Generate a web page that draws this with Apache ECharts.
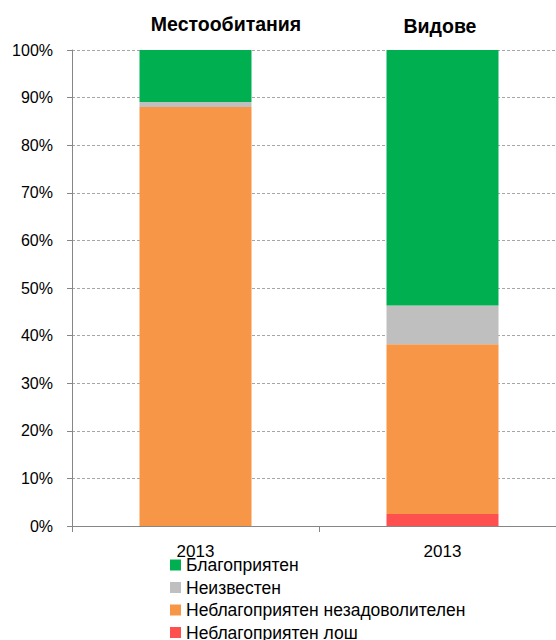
<!DOCTYPE html>
<html>
<head>
<meta charset="utf-8">
<script src="https://cdn.jsdelivr.net/npm/echarts@6/dist/echarts.min.js"></script>
<style>
html,body{margin:0;padding:0;background:#fff;}
#chart{width:556px;height:640px;}
</style>
</head>
<body>
<div id="chart"></div>
<script>
const categories = ['2013', '2013'];
const panelTitles = ['Местообитания', 'Видове'];
const seriesNames = ['Благоприятен', 'Неизвестен', 'Неблагоприятен незадоволителен', 'Неблагоприятен лош'];
const favourable = [10.9, 53.7];
const unknown = [1.1, 8.1];
const unfavInadequate = [88.0, 35.7];
const unfavBad = [0, 2.5];
const yTicks = [0, 10, 20, 30, 40, 50, 60, 70, 80, 90, 100];
const colors = ['#00B050', '#BFBFBF', '#F79646', '#FF5050'];

const FONT = 'Liberation Sans';
const chart = echarts.init(document.getElementById('chart'), null, {renderer: 'svg'});

function bar(name, data, color) {
  return {
    name: name, type: 'bar', stack: 'total', data: data, barWidth: 112,
    itemStyle: {color: color}
  };
}

chart.setOption({
  animation: false,
  textStyle: {fontFamily: FONT},
  graphic: [
    {type: 'text', style: {text: panelTitles[0], x: 226, y: 24, textAlign: 'center', textVerticalAlign: 'middle', font: 'bold 19.5px "Liberation Sans"', fill: '#000'}},
    {type: 'text', style: {text: panelTitles[1], x: 440, y: 26, textAlign: 'center', textVerticalAlign: 'middle', font: 'bold 19.5px "Liberation Sans"', fill: '#000'}}
  ],
  legend: {
    orient: 'vertical', left: 170, top: 556, height: 120, width: 380, padding: 0,
    itemWidth: 11, itemHeight: 11, itemGap: 4.5,
    icon: 'rect',
    data: seriesNames,
    textStyle: {fontFamily: FONT, fontSize: 17.5, color: '#000'}
  },
  grid: {left: 72, width: 494, top: 50, bottom: 114, outerBoundsMode: 'none', containLabel: false},
  xAxis: {
    type: 'category', data: categories,
    axisLine: {lineStyle: {color: '#868686'}},
    axisTick: {show: true, length: 6, lineStyle: {color: '#868686'}},
    axisLabel: {fontFamily: FONT, fontSize: 17, color: '#000', margin: 17}
  },
  yAxis: {
    type: 'value', min: yTicks[0], max: yTicks[yTicks.length - 1], interval: 10,
    axisLine: {show: true, lineStyle: {color: '#868686'}},
    axisTick: {show: true, length: 5, lineStyle: {color: '#868686'}},
    axisLabel: {fontFamily: FONT, fontSize: 16, color: '#000', margin: 19, formatter: '{value}%'},
    splitLine: {show: true, lineStyle: {color: '#A6A6A6', type: [3, 2], width: 1}}
  },
  series: [
    bar(seriesNames[3], unfavBad, colors[3]),
    bar(seriesNames[2], unfavInadequate, colors[2]),
    bar(seriesNames[1], unknown, colors[1]),
    bar(seriesNames[0], favourable, colors[0])
  ]
});
</script>
</body>
</html>
